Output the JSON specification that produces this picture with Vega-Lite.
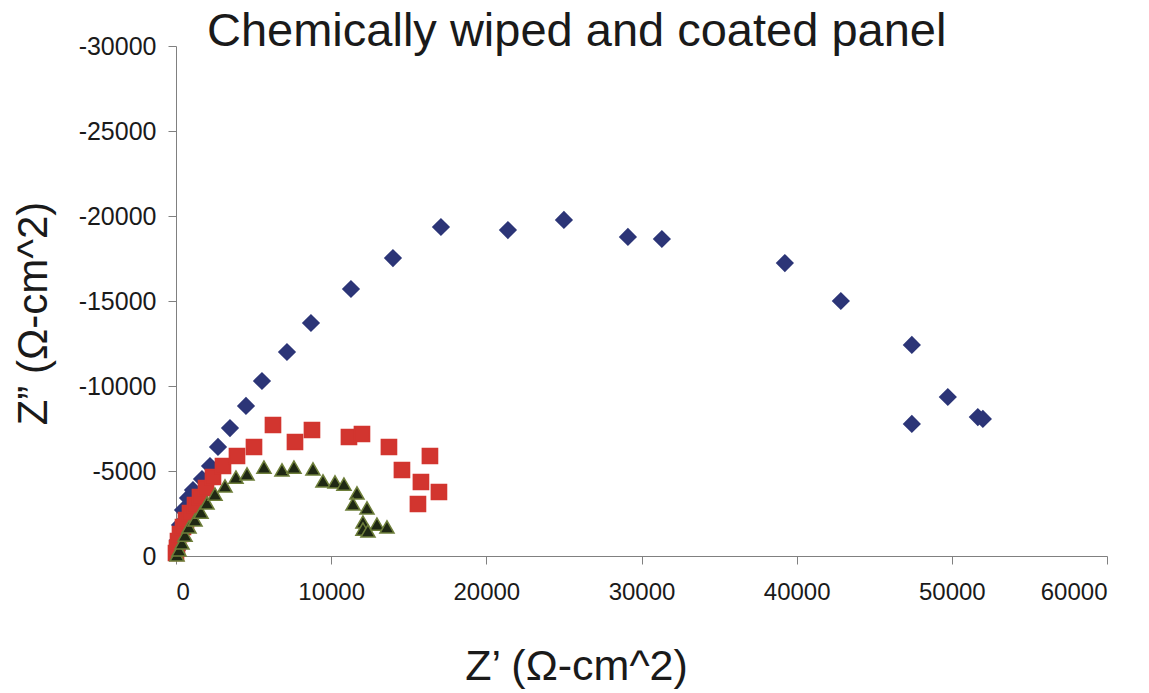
{
  "$schema": "https://vega.github.io/schema/vega-lite/v6.json",
  "width": 931,
  "height": 510,
  "autosize": "none",
  "padding": {"left": 176, "top": 46, "right": 42, "bottom": 137},
  "background": "white",
  "config": {
    "view": {"stroke": null},
    "font": "Liberation Sans"
  },
  "title": {
    "text": "Chemically wiped and coated panel",
    "anchor": "start",
    "frame": "group",
    "dx": 31,
    "baseline": "alphabetic",
    "offset": -59,
    "fontSize": 47,
    "fontWeight": "normal",
    "font": "Liberation Sans",
    "color": "#1a1a1a"
  },
  "data": {
    "values": [
      {"x": 64, "y": -353, "s": "A"},
      {"x": 129, "y": -941, "s": "A"},
      {"x": 258, "y": -1824, "s": "A"},
      {"x": 451, "y": -2706, "s": "A"},
      {"x": 773, "y": -3412, "s": "A"},
      {"x": 1095, "y": -3882, "s": "A"},
      {"x": 1675, "y": -4529, "s": "A"},
      {"x": 2191, "y": -5294, "s": "A"},
      {"x": 2706, "y": -6412, "s": "A"},
      {"x": 3479, "y": -7529, "s": "A"},
      {"x": 4510, "y": -8824, "s": "A"},
      {"x": 5541, "y": -10294, "s": "A"},
      {"x": 7152, "y": -12000, "s": "A"},
      {"x": 8698, "y": -13706, "s": "A"},
      {"x": 11276, "y": -15706, "s": "A"},
      {"x": 13982, "y": -17529, "s": "A"},
      {"x": 17075, "y": -19353, "s": "A"},
      {"x": 21392, "y": -19176, "s": "A"},
      {"x": 25000, "y": -19765, "s": "A"},
      {"x": 29124, "y": -18765, "s": "A"},
      {"x": 31314, "y": -18647, "s": "A"},
      {"x": 39240, "y": -17235, "s": "A"},
      {"x": 42848, "y": -15000, "s": "A"},
      {"x": 47423, "y": -12412, "s": "A"},
      {"x": 49742, "y": -9353, "s": "A"},
      {"x": 47423, "y": -7765, "s": "A"},
      {"x": 51675, "y": -8176, "s": "A"},
      {"x": 52000, "y": -8059, "s": "A"},
      {"x": 0, "y": -176, "s": "B"},
      {"x": 64, "y": -471, "s": "B"},
      {"x": 129, "y": -882, "s": "B"},
      {"x": 258, "y": -1294, "s": "B"},
      {"x": 451, "y": -1706, "s": "B"},
      {"x": 644, "y": -2118, "s": "B"},
      {"x": 902, "y": -2529, "s": "B"},
      {"x": 1224, "y": -3000, "s": "B"},
      {"x": 1546, "y": -3471, "s": "B"},
      {"x": 1933, "y": -4000, "s": "B"},
      {"x": 2384, "y": -4647, "s": "B"},
      {"x": 3028, "y": -5294, "s": "B"},
      {"x": 3930, "y": -5882, "s": "B"},
      {"x": 5026, "y": -6412, "s": "B"},
      {"x": 6250, "y": -7706, "s": "B"},
      {"x": 7668, "y": -6706, "s": "B"},
      {"x": 8763, "y": -7412, "s": "B"},
      {"x": 11147, "y": -7000, "s": "B"},
      {"x": 11985, "y": -7176, "s": "B"},
      {"x": 13724, "y": -6412, "s": "B"},
      {"x": 16366, "y": -5882, "s": "B"},
      {"x": 14562, "y": -5059, "s": "B"},
      {"x": 15786, "y": -4353, "s": "B"},
      {"x": 16946, "y": -3765, "s": "B"},
      {"x": 15593, "y": -3059, "s": "B"},
      {"x": 64, "y": -59, "s": "C"},
      {"x": 193, "y": -353, "s": "C"},
      {"x": 387, "y": -765, "s": "C"},
      {"x": 580, "y": -1235, "s": "C"},
      {"x": 838, "y": -1706, "s": "C"},
      {"x": 1224, "y": -2118, "s": "C"},
      {"x": 1611, "y": -2588, "s": "C"},
      {"x": 1997, "y": -3118, "s": "C"},
      {"x": 2513, "y": -3647, "s": "C"},
      {"x": 3157, "y": -4118, "s": "C"},
      {"x": 3866, "y": -4647, "s": "C"},
      {"x": 4575, "y": -4824, "s": "C"},
      {"x": 5670, "y": -5235, "s": "C"},
      {"x": 6830, "y": -5059, "s": "C"},
      {"x": 7603, "y": -5235, "s": "C"},
      {"x": 8827, "y": -5118, "s": "C"},
      {"x": 9472, "y": -4412, "s": "C"},
      {"x": 10245, "y": -4353, "s": "C"},
      {"x": 10825, "y": -4235, "s": "C"},
      {"x": 11662, "y": -3706, "s": "C"},
      {"x": 11405, "y": -3059, "s": "C"},
      {"x": 12307, "y": -2824, "s": "C"},
      {"x": 12049, "y": -2000, "s": "C"},
      {"x": 12951, "y": -1882, "s": "C"},
      {"x": 13595, "y": -1706, "s": "C"},
      {"x": 12049, "y": -1588, "s": "C"},
      {"x": 12371, "y": -1471, "s": "C"}
    ]
  },
  "mark": {"type": "point", "filled": true, "opacity": 1, "strokeWidth": 1.5, "strokeOpacity": 1},
  "encoding": {
    "x": {
      "field": "x",
      "type": "quantitative",
      "scale": {"domain": [0, 60000], "nice": false, "zero": false},
      "axis": {
        "values": [0, 10000, 20000, 30000, 40000, 50000, 60000],
        "format": "d",
        "grid": false,
        "domainColor": "#808080",
        "tickColor": "#808080",
        "tickSize": 8,
        "labelFontSize": 24,
        "labelColor": "#1a1a1a",
        "labelPadding": 16,
        "labelFont": "Liberation Sans",
        "title": "Z’ (Ω-cm^2)",
        "titleFont": "Liberation Sans",
        "titleFontSize": 43,
        "titleFontWeight": "normal",
        "titleColor": "#1a1a1a",
        "titleX": 400,
        "titleY": 123,
        "titleAnchor": "middle",
        "titleAlign": "center",
        "titleBaseline": "alphabetic"
      }
    },
    "y": {
      "field": "y",
      "type": "quantitative",
      "scale": {"domain": [0, -30000], "nice": false, "zero": false},
      "axis": {
        "values": [0, -5000, -10000, -15000, -20000, -25000, -30000],
        "labelExpr": "datum.value == 0 ? '0' : '-' + format(abs(datum.value), 'd')",
        "grid": false,
        "domainColor": "#808080",
        "tickColor": "#808080",
        "tickSize": 8,
        "labelFontSize": 25,
        "labelColor": "#1a1a1a",
        "labelPadding": 12,
        "labelFont": "Liberation Sans",
        "title": "Z” (Ω-cm^2)",
        "titleFont": "Liberation Sans",
        "titleFontSize": 42,
        "titleFontWeight": "normal",
        "titleColor": "#1a1a1a",
        "titleX": -130,
        "titleY": 267,
        "titleAngle": -90,
        "titleAlign": "center",
        "titleBaseline": "alphabetic"
      }
    },
    "fill": {
      "field": "s",
      "type": "nominal",
      "scale": {"domain": ["A", "B", "C"], "range": ["#2C3577", "#D2352F", "#1F2814"]},
      "legend": null
    },
    "stroke": {
      "field": "s",
      "type": "nominal",
      "scale": {"domain": ["A", "B", "C"], "range": ["#2C3577", "#D2352F", "#6E7F3A"]},
      "legend": null
    },
    "shape": {
      "field": "s",
      "type": "nominal",
      "scale": {"domain": ["A", "B", "C"], "range": ["diamond", "square", "triangle-up"]},
      "legend": null
    },
    "size": {
      "field": "s",
      "type": "nominal",
      "scale": {"domain": ["A", "B", "C"], "range": [260, 200, 190]},
      "legend": null
    }
  }
}
